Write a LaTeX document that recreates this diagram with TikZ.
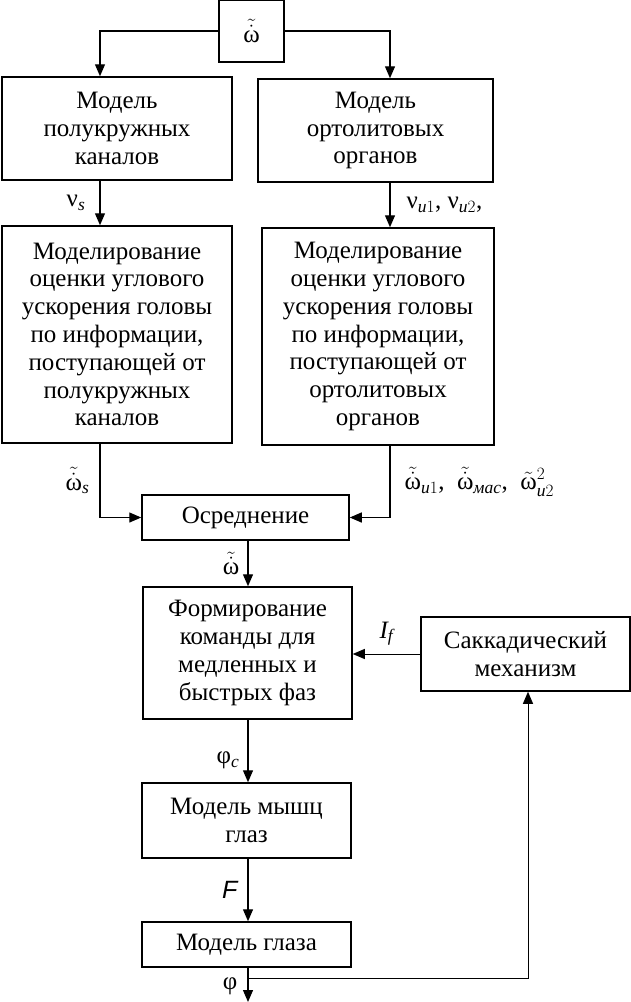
\documentclass[tikz,border=0pt]{standalone}
\usepackage{fontspec}
\usepackage{amsmath}
\setmainfont{Liberation Serif}
\newfontfamily\sansfnt{Liberation Sans}
\usetikzlibrary{arrows.meta}
\newcommand{\omt}{\tilde{\dot{\text{ω}}}}
\newcommand{\ix}[1]{\text{\itshape #1}}
\begin{document}
\begin{tikzpicture}
[x=1pt,y=-1pt,
  boxDecorate/.style={draw,line width=1.5pt,align=center,inner sep=0pt,
    font=\fontsize{25}{27.8}\selectfont},
  lineDecorate/.style={line width=1.3pt,-{Triangle[length=12pt,width=10pt]}},
  thinDecorate/.style={line width=0.9pt,-{Triangle[length=12pt,width=10pt]}},
  labelDecorate/.style={font=\fontsize{25}{26}\selectfont,inner sep=0pt}]
\useasboundingbox (0,0) rectangle (631,1002);
%% blocks
\foreach \nodename/\x/\y/\w/\h/\txt in {
  inp/251.5/31/65/62/{$\omt$},
  lm/117/128.5/230/103/{Модель\\полукружных\\каналов},
  rm/375.5/130.5/235/103/{Модель\\ортолитовых\\органов},
  le/117/334.5/230/217/{Моделирование\\оценки углового\\ускорения головы\\по информации,\\поступающей от\\полукружных\\каналов},
  re/378/336.5/232/217/{Моделирование\\оценки углового\\ускорения головы\\по информации,\\поступающей от\\ортолитовых\\органов},
  avg/245.5/517.5/207/45/{Осреднение},
  cmd/247.5/653/209/132/{Формирование\\команды для\\медленных и\\быстрых фаз},
  sac/525.5/654/209/74/{Саккадический\\механизм},
  mus/246.5/820.5/209/75/{Модель мышц\\глаз},
  eye/246.5/944.5/209/45/{Модель глаза}}
{
  \node (\nodename) at (\x,\y) [boxDecorate,minimum width=\w pt,minimum height=\h pt] {\txt};
}
%% guide columns
\coordinate (lx) at (100,0);
\coordinate (rx) at (390,0);
\coordinate (mx) at (248,0);
\coordinate (fx) at (528,0);
\coordinate (fb) at (248,978);
\coordinate (out) at (248,1002);
%% connectors
\draw[lineDecorate] (inp.west) -| (lm.north -| lx);
\draw[lineDecorate] (inp.east) -| (rm.north -| rx);
\draw[lineDecorate] (lm.south -| lx) -- (le.north -| lx)
  node[labelDecorate,midway,left=14pt] {$\text{ν}_{\ix{s}}$};
\draw[lineDecorate] (rm.south -| rx) -- (re.north -| rx)
  node[labelDecorate,midway,right=16pt] {$\text{ν}_{\ix{u}1}$, $\text{ν}_{\ix{u}2}$,};
\draw[lineDecorate] (le.south -| lx) |- (avg.west)
  node[labelDecorate,pos=0.25,left=10pt] {$\omt_{\ix{s}}$};
\draw[lineDecorate] (re.south -| rx) |- (avg.east)
  node[labelDecorate,pos=0.25,right=14pt] {$\omt_{\ix{u}1}$,\ \ $\omt_{\ix{мас}}$,\ \ $\tilde{\text{ω}}^2_{\ix{u}2}$};
\draw[lineDecorate] (avg.south -| mx) -- (cmd.north -| mx)
  node[labelDecorate,midway,left=8pt] {$\omt$};
\draw[thinDecorate] (sac.west) -- (sac.west -| cmd.east)
  node[labelDecorate,midway,above=8pt] {$\ix{I}_{\ix{f}}$};
\draw[lineDecorate] (cmd.south -| mx) -- (mus.north -| mx)
  node[labelDecorate,pos=0.65,left=8pt] {φ$_{\ix{c}}$};
\draw[lineDecorate] (mus.south -| mx) -- (eye.north -| mx)
  node[labelDecorate,midway,left=10pt] {\sansfnt\itshape F};
\draw[lineDecorate] (eye.south -| mx) -- (out)
  node[labelDecorate,pos=0.55,left=10pt] {φ};
\draw[thinDecorate] (fb) -| (sac.south -| fx);
\end{tikzpicture}
\end{document}
